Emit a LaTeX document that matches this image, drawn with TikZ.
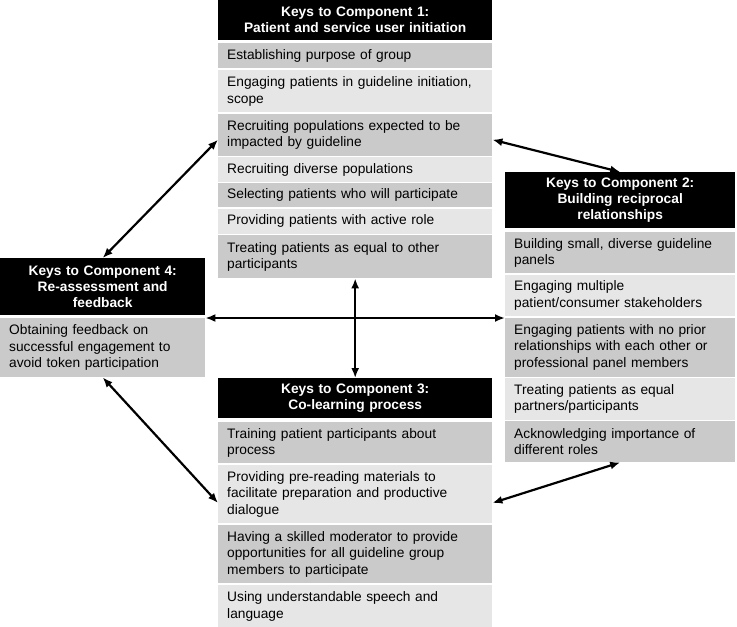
\documentclass[tikz,border=0pt]{standalone}
\usepackage{fontspec}
\setmainfont{Liberation Sans}
\usetikzlibrary{arrows.meta}
\definecolor{keydark}{RGB}{202,202,202}
\definecolor{keylight}{RGB}{230,230,230}
\tikzset{
  keyhead/.style={anchor=north west, fill=black, text=white, font=\fontsize{13.75}{16}\selectfont\bfseries, align=center, inner sep=0pt},
  keyrow/.style={anchor=north west, align=left, inner xsep=9pt, inner ysep=0pt},
  darkrow/.style={keyrow, fill=keydark},
  lightrow/.style={keyrow, fill=keylight},
  link/.style={{Latex[length=10pt,width=8pt]}-{Latex[length=10pt,width=8pt]}, line width=2.2pt}
}

\begin{document}
\begin{tikzpicture}[x=1pt,y=-1pt,font=\fontsize{13.75}{16.5}\selectfont]
        \useasboundingbox (0,0) rectangle (737,627);
        % Component 1
        \node[keyhead, text width=274pt, minimum height=40pt] (c1h) at (218,0) {Keys to Component 1:\\Patient and service user initiation};
        \node[darkrow, text width=256pt, minimum height=25pt] (c1r1) at (218,43) {Establishing purpose of group};
        \node[lightrow, text width=256pt, minimum height=42pt] (c1r2) at (218,70) {Engaging patients in guideline initiation,\\scope};
        \node[darkrow, text width=256pt, minimum height=42pt] (c1r3) at (218,113.5) {Recruiting populations expected to be\\impacted by guideline};
        \node[lightrow, text width=256pt, minimum height=25pt] (c1r4) at (218,157) {Recruiting diverse populations};
        \node[darkrow, text width=256pt, minimum height=24pt] (c1r5) at (218,183) {Selecting patients who will participate};
        \node[lightrow, text width=256pt, minimum height=25pt] (c1r6) at (218,208.5) {Providing patients with active role};
        \node[darkrow, text width=256pt, minimum height=43pt] (c1r7) at (218,235) {Treating patients as equal to other\\participants};
        % Component 2
        \node[keyhead, text width=230pt, minimum height=56pt] (c2h) at (505,172) {Keys to Component 2:\\Building reciprocal\\relationships};
        \node[darkrow, text width=212pt, minimum height=41pt] (c2r1) at (505,232) {Building small, diverse guideline\\panels};
        \node[lightrow, text width=212pt, minimum height=41.5pt] (c2r2) at (505,274.5) {Engaging multiple\\patient/consumer stakeholders};
        \node[darkrow, text width=212pt, minimum height=59pt] (c2r3) at (505,317.5) {Engaging patients with no prior\\relationships with each other or\\professional panel members};
        \node[lightrow, text width=212pt, minimum height=41.5pt] (c2r4) at (505,378) {Treating patients as equal\\partners/participants};
        \node[darkrow, text width=212pt, minimum height=41pt] (c2r5) at (505,421) {Acknowledging importance of\\different roles};
        % Component 3
        \node[keyhead, text width=274pt, minimum height=40pt] (c3h) at (218,378) {Keys to Component 3:\\Co-learning process};
        \node[darkrow, text width=256pt, minimum height=41pt] (c3r1) at (218,422) {Training patient participants about\\process};
        \node[lightrow, text width=256pt, minimum height=58.5pt] (c3r2) at (218,464.5) {Providing pre-reading materials to\\facilitate preparation and productive\\dialogue};
        \node[darkrow, text width=256pt, minimum height=58.5pt] (c3r3) at (218,524.5) {Having a skilled moderator to provide\\opportunities for all guideline group\\members to participate};
        \node[lightrow, text width=256pt, minimum height=42pt] (c3r4) at (218,585) {Using understandable speech and\\language};
        % Component 4
        \node[keyhead, text width=205pt, minimum height=57pt] (c4h) at (0,258) {Keys to Component 4:\\Re-assessment and\\feedback};
        \node[darkrow, text width=187pt, minimum height=59pt] (c4r1) at (0,318) {Obtaining feedback on\\successful engagement to\\avoid token participation};
        % links
        \draw[link] ([yshift=-5pt]c1r3.west) -- (c4h.north);
        \draw[link] ([yshift=-5pt]c1r3.east) -- (c2h.north);
        \draw[link] (c4r1.north east) -- (c4r1.north east -| c2r3.west);
        \draw[link] (c1r7.south) -- (c3h.north);
        \draw[link] (c4r1.south) -- ([yshift=-9pt]c3r2.west);
        \draw[link] ([yshift=-9pt]c3r2.east) -- (c2r5.south);
    \end{tikzpicture}
\end{document}
